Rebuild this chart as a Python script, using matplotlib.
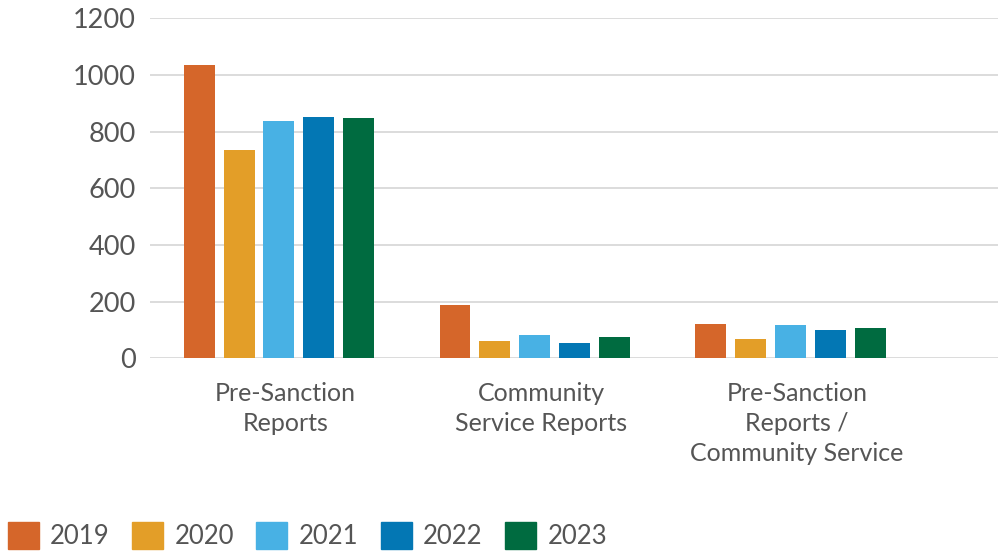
import numpy as np
import matplotlib.pyplot as plt
from matplotlib.patches import Patch

plt.rcParams['font.family'] = ['Lato', 'DejaVu Sans']

categories = ['Pre-Sanction\nReports', 'Community\nService Reports',
              'Pre-Sanction\nReports /\nCommunity Service']
years = ['2019', '2020', '2021', '2022', '2023']
values = {
    '2019': [1034, 187, 121],
    '2020': [736, 62, 69],
    '2021': [837, 83, 117],
    '2022': [851, 55, 100],
    '2023': [848, 76, 109],
}
colors = ['#d5662a', '#e39e28', '#48b1e4', '#0377b4', '#006b40']

text_col = '#555555'
fig = plt.figure(figsize=(9.98, 5.54), dpi=100)
ax = fig.add_axes([0.1503, 0.3529, 0.8497, 0.6146])

x = np.arange(len(categories))
pitch = 0.156
width = 0.121
for i, yr in enumerate(years):
    ax.bar(x + (i - 2) * pitch, values[yr], width=width, color=colors[i], zorder=3)

ax.set_ylim(0, 1200)
ax.set_xlim(-0.504, 2.81)
ax.set_yticks(range(0, 1201, 200))
ax.yaxis.grid(True, color='#d9d9d9', lw=1.3, zorder=0)
ax.set_axisbelow(True)
for s in ax.spines.values():
    s.set_visible(False)
ax.tick_params(length=0, labelcolor=text_col)
ax.tick_params(axis='y', pad=10, labelsize=19.5)
ax.tick_params(axis='x', pad=17, labelsize=18)
ax.set_xticks(x + 0.025)
ax.set_xticklabels(categories, linespacing=1.36)

handles = [Patch(color=c, label=y) for c, y in zip(colors, years)]
leg = fig.legend(handles=handles, loc='lower left', bbox_to_anchor=(0.0, -0.005),
                 ncol=5, frameon=False, fontsize=18.5, handlelength=1.2,
                 handleheight=1.2, handletextpad=0.45, columnspacing=0.87,
                 borderaxespad=0.0, borderpad=0.3)
for t in leg.get_texts():
    t.set_color(text_col)

fig.savefig('out.png', dpi=100)
